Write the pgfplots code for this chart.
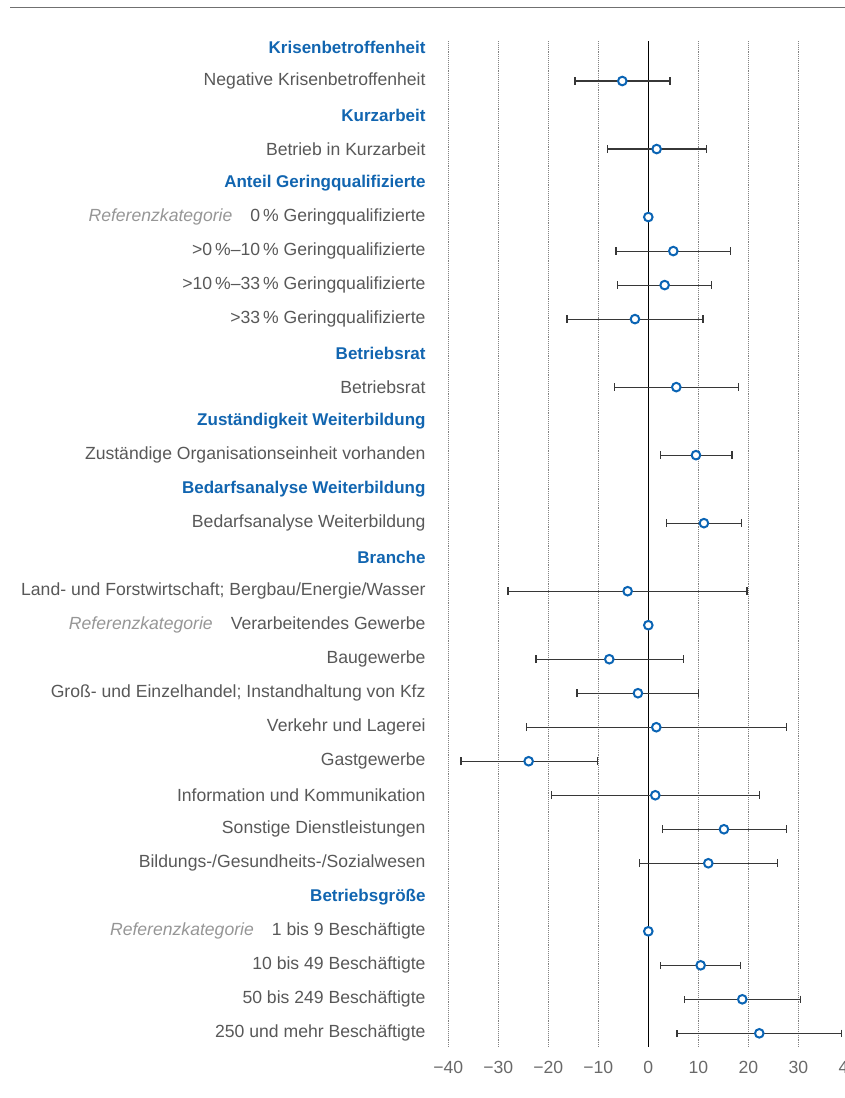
\documentclass[border=0pt]{standalone}
\usepackage{pgfplots}
\usepackage{pgfplotstable}
\pgfplotsset{compat=1.18}
\usepackage{fontspec}
\setmainfont{Liberation Sans}
\definecolor{hblue}{RGB}{17,101,176}
\definecolor{mblue}{RGB}{10,100,180}
\definecolor{lblgray}{RGB}{88,88,88}
\definecolor{refgray}{RGB}{150,150,150}
\definecolor{ebar}{RGB}{55,55,55}
\definecolor{tickgray}{RGB}{105,105,105}
\definecolor{gridgray}{RGB}{130,130,130}
\definecolor{rulegray}{RGB}{112,112,112}
\newcommand{\hd}[1]{\textcolor{hblue}{\fontsize{17pt}{20pt}\selectfont\bfseries #1}}
\newcommand{\rk}{\textcolor{refgray}{\itshape Referenzkategorie}\hspace{18pt}}

\pgfplotstableread{
r m lo hi
2 -5.2 -14.66 4.34
4 1.67 -8.2 11.6
7 5.0 -6.47 16.47
8 3.27 -6.2 12.67
9 -2.67 -16.27 10.93
11 5.6 -6.73 18.0
13 9.53 2.47 16.73
15 11.13 3.67 18.67
17 -4.13 -28.06 19.73
19 -7.8 -22.46 7.0
20 -2.07 -14.27 10.0
21 1.6 -24.33 27.6
22 -23.93 -37.46 -10.13
23 1.4 -19.4 22.2
24 15.13 2.8 27.6
25 12.0 -1.8 25.8
28 10.47 2.47 18.47
29 18.8 7.27 30.47
30 22.2 5.73 38.6
}\est

\pgfplotstableread{
r m
6 0
18 0
27 0
}\refs

\begin{document}
\begin{tikzpicture}
\useasboundingbox (0,0) rectangle (845pt,-1098pt);
\draw[rulegray, line width=1.6pt] (10pt,-7.5pt) -- (845pt,-7.5pt);
\begin{axis}[
  at={(448.3pt,-1046.7pt)}, anchor=south west,
  scale only axis, width=400pt, height=1005.7pt,
  xmin=-40, xmax=40, ymin=0.824, ymax=30.394,
  y dir=reverse,
  clip=false,
  axis line style={draw=none},
  tick style={draw=none},
  major tick length=0pt,
  xtick={-40,-30,-20,-10,10,20,30,40},
  xticklabels={−40,−30,−20,−10,10,20,30,40},
  extra x ticks={0},
  extra x tick labels={0},
  xmajorgrids,
  major grid style={gridgray, line width=0.8pt, dash pattern=on 0.8pt off 1.1pt},
  ticklabel style={font=\fontsize{17.6pt}{20pt}\selectfont},
  xticklabel style={text=tickgray, inner sep=0pt, anchor=north, yshift=-14pt},
  yticklabel style={text=lblgray, inner sep=0pt, anchor=east, xshift=-22.6pt},
  ytick={1,...,30},
  yticklabels={
    \hd{Krisenbetroffenheit},
    Negative Krisenbetroffenheit,
    \hd{Kurzarbeit},
    Betrieb in Kurzarbeit,
    \hd{Anteil Geringqualifizierte},
    \rk 0\,\% Geringqualifizierte,
    >0\,\%–10\,\% Geringqualifizierte,
    >10\,\%–33\,\% Geringqualifizierte,
    >33\,\% Geringqualifizierte,
    \hd{Betriebsrat},
    Betriebsrat,
    \hd{Zuständigkeit Weiterbildung},
    Zuständige Organisationseinheit vorhanden,
    \hd{Bedarfsanalyse Weiterbildung},
    Bedarfsanalyse Weiterbildung,
    \hd{Branche},
    Land- und Forstwirtschaft; Bergbau/Energie/Wasser,
    \rk Verarbeitendes Gewerbe,
    Baugewerbe,
    Groß- und Einzelhandel; Instandhaltung von Kfz,
    Verkehr und Lagerei,
    Gastgewerbe,
    Information und Kommunikation,
    Sonstige Dienstleistungen,
    Bildungs-/Gesundheits-/Sozialwesen,
    \hd{Betriebsgröße},
    \rk 1 bis 9 Beschäftigte,
    10 bis 49 Beschäftigte,
    50 bis 249 Beschäftigte,
    250 und mehr Beschäftigte
  },
]
\draw[black, line width=1.6pt] (axis cs:0,0.824) -- (axis cs:0,30.394);
\addplot[only marks, mark=*, mark size=4.3pt,
  mark options={fill=white, draw=mblue, line width=2pt},
  error bars/.cd, x dir=both, x explicit, error mark=|,
  error bar style={ebar, line width=1.1pt},
  error mark options={ebar, line width=1.1pt, mark size=3.8pt}]
  table[x=m, y=r,
        x error plus expr=\thisrow{hi}-\thisrow{m},
        x error minus expr=\thisrow{m}-\thisrow{lo}] {\est};
\addplot[only marks, mark=*, mark size=4.3pt,
  mark options={fill=white, draw=mblue, line width=2pt}]
  table[x=m, y=r] {\refs};
\end{axis}
\end{tikzpicture}
\end{document}
